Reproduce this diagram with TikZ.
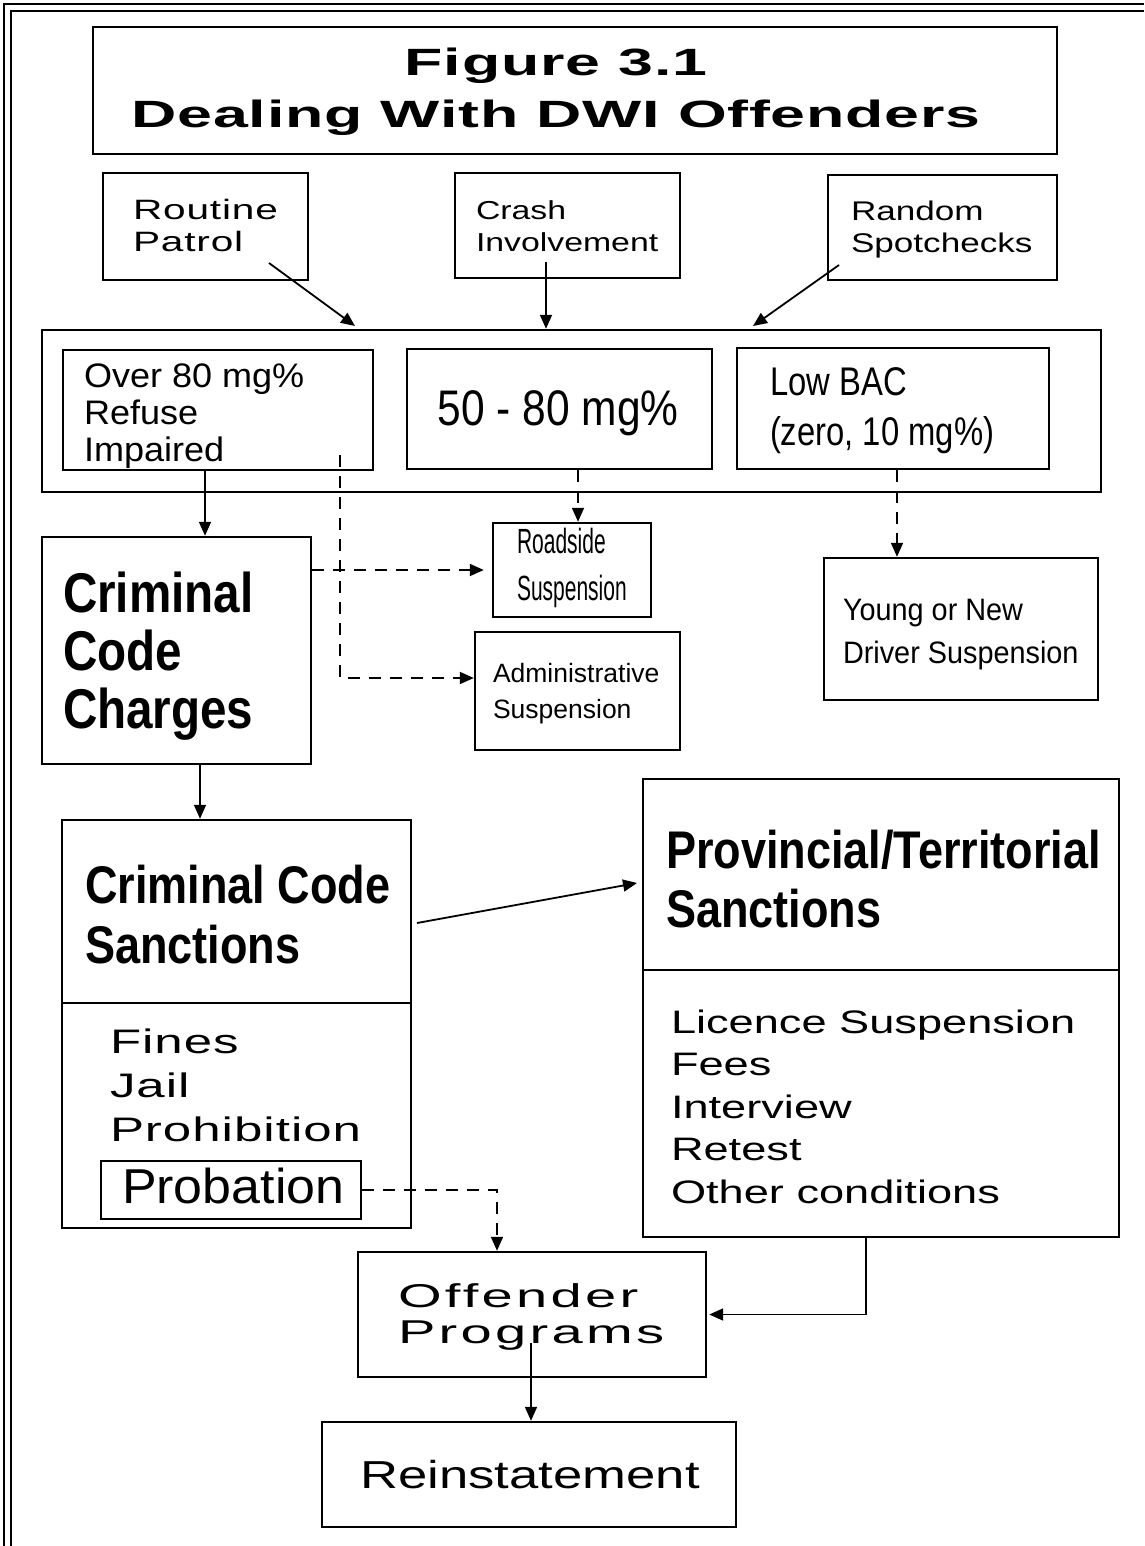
\documentclass[tikz,border=0pt]{standalone}
\usepackage{fontspec}
\usetikzlibrary{arrows.meta,fit}
\setmainfont{Liberation Sans}
\newfontfamily\titlef[FakeStretch=1.65,LetterSpace=2]{Liberation Sans}
\newfontfamily\ext[FakeStretch=1.3]{Liberation Sans}
\newfontfamily\extl[FakeStretch=1.39]{Liberation Sans}
\newfontfamily\extw[FakeStretch=1.45,LetterSpace=3]{Liberation Sans}
\newfontfamily\extf[FakeStretch=1.5,LetterSpace=3]{Liberation Sans}
\newfontfamily\extoff[FakeStretch=1.7,LetterSpace=10]{Liberation Sans}
\newfontfamily\extrein[FakeStretch=1.35]{Liberation Sans}
\newfontfamily\regw[FakeStretch=1.06]{Liberation Sans}
\newfontfamily\cond[FakeStretch=0.85]{Liberation Sans}
\newfontfamily\cnine[FakeStretch=0.93]{Liberation Sans}
\newfontfamily\clow[FakeStretch=0.82]{Liberation Sans}
\newfontfamily\narr[FakeStretch=0.6]{Liberation Sans}
\newcommand\fs[1]{\fontsize{#1}{#1}\selectfont}
\newcommand\mlL[2]{\vtop{\baselineskip=#1pt\lineskiplimit=-1000pt\halign{##\hfil\cr#2\cr}}}
\newcommand\mlC[2]{\vtop{\baselineskip=#1pt\lineskiplimit=-1000pt\halign{\hfil##\hfil\cr#2\cr}}}
\tikzset{
 box/.style={draw, line width=2.4pt, inner sep=0pt},
 txt/.style={inner sep=0pt, outer sep=0pt, anchor=base west},
 arr/.style={line width=1.8pt, -{Triangle[length=14pt,width=12pt]}},
 dsh/.style={dash pattern=on 12pt off 9pt},
}
\begin{document}
\begin{tikzpicture}[x=1pt,y=-1pt]
\useasboundingbox (0,0) rectangle (1144,1546);
% outer double border (top and left)
\draw[line width=2pt] (4,1546) -- (4,4) -- (1144,4);
\draw[line width=2pt] (11,1546) -- (11,11) -- (1144,11);

% boxes
\node[box, fit={(93,27) (1057,154)}] (title) {};
\node[box, fit={(103,173) (308,280)}] (rp) {};
\node[box, fit={(455,173) (680,278)}] (ci) {};
\node[box, fit={(828,175) (1057,280)}] (rs) {};
\node[box, fit={(42,330) (1101,492)}] (bac) {};
\node[box, fit={(63,350) (373,470)}] (o80) {};
\node[box, fit={(407,349) (712,469)}] (m50) {};
\node[box, fit={(737,348) (1049,469)}] (low) {};
\node[box, fit={(42,537) (311,764)}] (ccc) {};
\node[box, fit={(493,523) (651,617)}] (road) {};
\node[box, fit={(475,632) (680,750)}] (adm) {};
\node[box, fit={(824,558) (1098,700)}] (young) {};
\node[box, fit={(62,820) (411,1228)}] (ccs) {};
\node[box, fit={(101,1161) (361,1219)}] (prob) {};
\node[box, fit={(643,779) (1119,1237)}] (pts) {};
\node[box, fit={(358,1252) (706,1377)}] (off) {};
\node[box, fit={(322,1422) (736,1527)}] (rein) {};
\draw[line width=2.4pt] (ccs.west |- 0,1003) -- (ccs.east |- 0,1003);
\draw[line width=2.4pt] (pts.west |- 0,970) -- (pts.east |- 0,970);

% texts
\node[txt, anchor=base] (tT) at (556,76) {\titlef\bfseries\fs{38}\mlC{52}{Figure 3.1\cr Dealing With DWI Offenders}};
\node[txt] (tRP) at (133,220) {\extw\fs{28}\mlL{32}{Routine\cr Patrol}};
\node[txt] (tCI) at (476,220) {\ext\fs{26}\mlL{32}{Crash\cr Involvement}};
\node[txt] (tRS) at (851,221) {\ext\fs{27}\mlL{32}{Random\cr Spotchecks}};
\node[txt] (tO80) at (84,387) {\regw\fs{34}\mlL{37}{Over 80 mg\%\cr Refuse\cr Impaired}};
\node[txt, anchor=base] (tM50) at (558,425) {\cond\fs{50}50 - 80 mg\%};
\node[txt] (tLow) at (770,395) {\clow\fs{40}\mlL{50}{Low BAC\cr (zero, 10 mg\%)}};
\node[txt] (tCCC) at (63,612) {\cond\bfseries\fs{56}\mlL{58}{Criminal\cr Code\cr Charges}};
\node[txt] (tRoad) at (517,553) {\narr\fs{35}\mlL{47}{Roadside\cr Suspension}};
\node[txt] (tAdm) at (493,682) {\fs{26.5}\mlL{36}{Administrative\cr Suspension}};
\node[txt] (tYoung) at (843,620) {\cnine\fs{31}\mlL{43}{Young or New\cr Driver Suspension}};
\node[txt] (tCCS) at (85,903) {\cond\bfseries\fs{53}\mlL{60}{Criminal Code\cr Sanctions}};
\node[txt] (tCCSi) at (110,1053) {\extf\fs{34}\mlL{44}{Fines\cr Jail\cr Prohibition}};
\node[txt] (tProb) at (122,1203) {\regw\fs{49}Probation};
\node[txt] (tPTS) at (666,868) {\cond\bfseries\fs{53}\mlL{59}{Provincial/Territorial\cr Sanctions}};
\node[txt] (tPTSi) at (671,1033) {\extl\fs{32.5}\mlL{42.5}{Licence Suspension\cr Fees\cr Interview\cr Retest\cr Other conditions}};
\node[txt] (tOff) at (398,1307) {\extoff\fs{33}\mlL{36}{Offender\cr Programs}};
\node[txt, anchor=base] (tRein) at (530,1488) {\extrein\fs{39}Reinstatement};

% connectors: top sources into the BAC box
\coordinate (rpS) at (269,263);
\coordinate (rpE) at (355,326);
\coordinate (ciS) at (546,262);
\coordinate (rsS) at (839,265);
\coordinate (rsE) at (753,326);
\draw[arr] (rpS) -- (rpE);
\draw[arr] (ciS) -- (ciS |- bac.north);
\draw[arr] (rsS) -- (rsE);

% solid flow
\draw[arr] ([xshift=-13pt]o80.south) -- ([xshift=-13pt]o80.south |- ccc.north);
\draw[arr] ([xshift=23.5pt]ccc.south) -- ([xshift=23.5pt]ccc.south |- ccs.north);
\coordinate (csS) at (417,923);
\coordinate (csE) at (637,883);
\draw[arr] (csS) -- (csE);
\draw[arr] ([xshift=-15pt]pts.south) |- ([xshift=2pt]off.east);
\coordinate (offIn) at (531,1343);
\draw[arr] (offIn) -- (offIn |- rein.north);

% dashed flow
\draw[arr, dsh] (ccc.east |- road.west) -- ([xshift=-8pt]road.west);
\coordinate (dv) at (340,455);
\draw[arr, dsh] (dv) |- ([yshift=13pt]adm.west);
\draw[arr, dsh] ([xshift=6pt]road.north |- m50.south) -- ([xshift=6pt]road.north);
\draw[arr, dsh] ([xshift=4pt]low.south) -- ([xshift=4pt]low.south |- young.north);
\draw[arr, dsh] (prob.east) -| ([xshift=-35pt]off.north);
\end{tikzpicture}
\end{document}
